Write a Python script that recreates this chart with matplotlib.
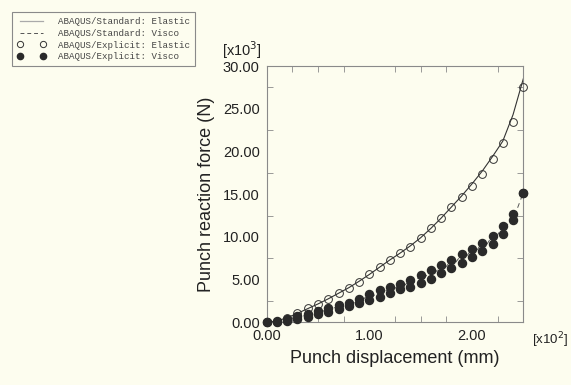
import numpy as np
import matplotlib.pyplot as plt
from matplotlib.lines import Line2D

# displacement [x10^2 mm]
disp = [0.0, 0.1, 0.2, 0.3, 0.4, 0.5, 0.6, 0.7, 0.8, 0.9, 1.0, 1.1, 1.2,
        1.3, 1.4, 1.5, 1.6, 1.7, 1.8, 1.9, 2.0, 2.1, 2.2, 2.3, 2.4, 2.5]

# ABAQUS/Standard elastic [x10^3 N]
std_elastic = [0.0, 0.15, 0.55, 1.05, 1.6, 2.15, 2.75, 3.4, 4.05, 4.8, 5.6,
               6.45, 7.3, 8.1, 8.95, 9.9, 11.0, 12.2, 13.5, 14.8, 16.2,
               17.7, 19.4, 21.2, 24.3, 28.5]

# ABAQUS/Explicit elastic
exp_elastic = [0.0, 0.08, 0.55, 1.05, 1.64, 2.11, 2.69, 3.39, 4.02, 4.72,
               5.62, 6.48, 7.26, 8.08, 8.86, 9.83, 11.08, 12.25, 13.46,
               14.63, 15.96, 17.36, 19.08, 20.95, 23.45, 27.58]

# visco: force at end of loading (upper) and after relaxation (lower)
visco_upper = [0.0, 0.16, 0.39, 0.70, 0.98, 1.29, 1.64, 1.99, 2.30, 2.69,
               3.30, 3.75, 4.10, 4.49, 4.96, 5.54, 6.13, 6.75, 7.34, 7.96,
               8.58, 9.33, 10.14, 11.28, 12.68, 15.18]
visco_lower = [0.0, 0.05, 0.20, 0.39, 0.66, 0.98, 1.25, 1.56, 1.91, 2.30,
               2.65, 3.0, 3.47, 3.86, 4.17, 4.64, 5.11, 5.74, 6.36, 6.98,
               7.61, 8.31, 9.21, 10.38, 11.98, 15.18]

bg = '#fdfdef'
grey = '#8a8a8a'
plt.rcParams['font.family'] = ['Liberation Sans', 'DejaVu Sans']

fig = plt.figure(figsize=(5.71, 3.85), dpi=100, facecolor=bg)
ax = fig.add_axes([266.7/571, 1-322.3/385, (523.3-266.7)/571, (322.3-66)/385])
ax.set_facecolor(bg)

# zig-zag path for the visco standard run
zx, zy = [], []
for x, u, l in zip(disp, visco_upper, visco_lower):
    zx += [x, x]
    zy += [u, l]

ax.plot(disp, std_elastic, color='#333333', lw=0.8, zorder=2)
ax.plot(zx, zy, color='#555555', lw=0.7, ls=(0, (5, 4)), zorder=2)
ax.plot(disp, exp_elastic, ls='none', marker='o', ms=5.6, mfc='none',
        mec='#333333', mew=0.7, zorder=3, clip_on=False)
ax.plot(disp, visco_upper, ls='none', marker='o', ms=5.8, mfc='#2a2a2a',
        mec='#2a2a2a', zorder=3, clip_on=False)
ax.plot(disp, visco_lower, ls='none', marker='o', ms=5.8, mfc='#2a2a2a',
        mec='#2a2a2a', zorder=3, clip_on=False)

ax.set_xlim(0, 2.5)
ax.set_ylim(0, 30)
ax.set_xticks([0, 1, 2])
ax.set_xticklabels(['0.00', '1.00', '2.00'])
ax.set_xticks(np.arange(0, 2.51, 0.25), minor=True)
ax.set_yticks(np.arange(0, 30.1, 5))
ax.set_yticklabels(['%.2f' % v for v in np.arange(0, 30.1, 5)])
ax.set_yticks(np.arange(0, 30.1, 2.5), minor=True)
ax.tick_params(which='both', direction='in', top=True, right=True,
               color=grey, labelsize=10.5, labelcolor='#222222', pad=5)
ax.tick_params(which='major', length=0)
ax.tick_params(which='minor', length=4)
for s in ax.spines.values():
    s.set_color(grey)
    s.set_linewidth(0.8)

ax.set_xlabel('Punch displacement (mm)', fontsize=13, color='#222222', labelpad=5)
ax.set_ylabel('Punch reaction force (N)', fontsize=13, color='#222222', labelpad=6)
fig.text(222/571, 1-50/385, r'[x10$^3$]', fontsize=10.5, color='#222222', va='center')
fig.text(532/571, 1-340/385, r'[x10$^2$]', fontsize=9.5, color='#222222', va='center')

handles = [
    Line2D([], [], color='#aaaaaa', lw=0.9),
    Line2D([], [], color='#555555', lw=0.7, ls=(0, (4, 3))),
    Line2D([], [], ls='none', marker='o', ms=4.5, mfc='none', mec='#333333', mew=0.7),
    Line2D([], [], ls='none', marker='o', ms=4.5, mfc='#2a2a2a', mec='#2a2a2a'),
]
labels = ['ABAQUS/Standard: Elastic', 'ABAQUS/Standard: Visco',
          'ABAQUS/Explicit: Elastic', 'ABAQUS/Explicit: Visco']
leg = fig.legend(handles, labels, loc='upper left',
                 bbox_to_anchor=(12/571, 1-12/385), numpoints=2,
                 prop={'family': 'Liberation Mono', 'size': 6.6},
                 frameon=True, fancybox=False, edgecolor=grey,
                 facecolor=bg, framealpha=1, handlelength=3.1,
                 handletextpad=1.4, labelspacing=0.3, borderpad=0.55,
                 borderaxespad=0)
leg.get_frame().set_linewidth(0.8)
for t in leg.get_texts():
    t.set_color('#444444')

fig.savefig('out.png', dpi=100, facecolor=bg)
